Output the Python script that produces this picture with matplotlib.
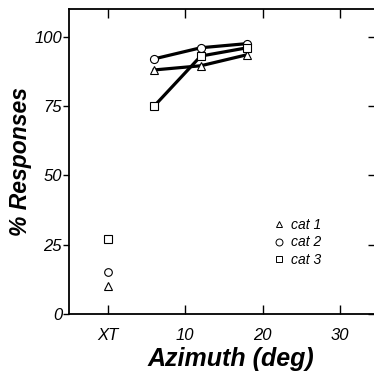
import matplotlib.pyplot as plt
from matplotlib.lines import Line2D

plt.rcParams['font.family'] = ['Liberation Sans', 'DejaVu Sans']

# azimuth positions (deg); XT is plotted at 0 and not joined to the curves
azimuth = [6, 12, 18]
xt_pos = 0

cat1 = [88, 89.5, 93.5]
cat2 = [92, 96, 97.5]
cat3 = [75, 93, 96]
xt_cat1 = 10
xt_cat2 = 15
xt_cat3 = 27

cats = ['cat 1', 'cat 2', 'cat 3']
markers = ['^', 'o', 's']

xticks = [0, 10, 20, 30]
xtick_labels = ['XT', '10', '20', '30']
yticks = [0, 25, 50, 75, 100]

fig = plt.figure(figsize=(3.74, 3.72), dpi=100)
ax = fig.add_axes([0.1845, 0.156, 0.829, 0.82])

curves = [cat1, cat2, cat3]
xt_vals = [xt_cat1, xt_cat2, xt_cat3]
for vals, m in zip(curves, markers):
    ax.plot(azimuth, vals, color='black', lw=2.3, zorder=2)
for vals, m in zip(curves, markers):
    ax.plot(azimuth, vals, ls='none', marker=m, ms=5.8, mfc='white',
            mec='black', mew=0.8, zorder=3)
for v, m in zip(xt_vals, markers):
    ax.plot([xt_pos], [v], ls='none', marker=m, ms=5.5, mfc='white',
            mec='black', mew=0.8, zorder=3)

ax.set_xlim(-5, 35)
ax.set_ylim(0, 110)
ax.set_xticks(xticks)
ax.set_xticklabels(xtick_labels, fontsize=12, style='italic')
ax.set_yticks(yticks)
ax.set_yticklabels([str(v) for v in yticks], fontsize=12, style='italic')

ax.tick_params(axis='x', direction='in', length=6.5, width=1, pad=10,
               top=True)
ax.tick_params(axis='y', which='both', left=True, right=True)
ax.tick_params(axis='y', direction='out', length=4, width=1, pad=1)
for t in ax.yaxis.get_major_ticks():
    t.tick2line.set_marker(0)
    t.tick2line.set_markersize(8)
for s in ax.spines.values():
    s.set_linewidth(1.3)

ax.set_xlabel('Azimuth (deg)', fontsize=18, weight='bold', style='italic',
              labelpad=3)
ax.xaxis.label.set_x(0.523)
ax.set_ylabel('% Responses', fontsize=16.5, weight='bold', style='italic',
              labelpad=2)

handles = [Line2D([], [], ls='none', marker=m, ms=5, mfc='white',
                  mec='black', mew=0.7) for m in markers]
ax.legend(handles, cats, loc='upper left', frameon=False,
          prop={'size': 10, 'style': 'italic'},
          bbox_to_anchor=(265 / 374, 1 - 211 / 372),
          bbox_transform=fig.transFigure, handlelength=1.0,
          handletextpad=0.4, labelspacing=0.25, borderpad=0)

fig.savefig('out.png', dpi=100)
